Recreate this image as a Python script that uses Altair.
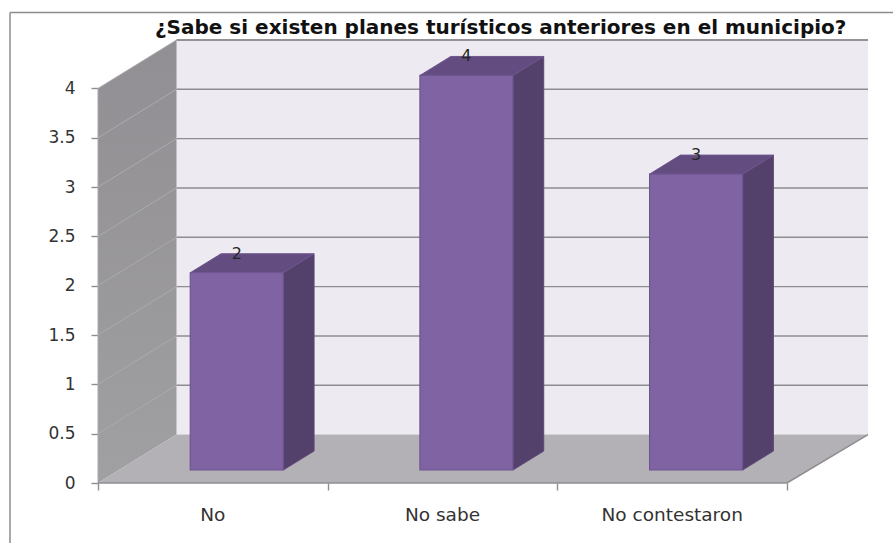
import altair as alt
import pandas as pd

TITLE = "¿Sabe si existen planes turísticos anteriores en el municipio?"
categories = ["No", "No sabe", "No contestaron"]
values = [2, 4, 3]
levels = [0, 0.5, 1, 1.5, 2, 2.5, 3, 3.5, 4]

# Oblique projection: moving back along the depth axis shifts a point in axis units.
X_MAX, Y_MAX = 3.3526, 4.491
DEPTH_X, DEPTH_Y = 0.342, 0.491
BAR_START, BAR_WIDTH = 0.31, 0.405
DEPTH_FRONT, DEPTH_BACK = 0.268, 0.66
TOP_VALUE = 4

x_scale = alt.Scale(domain=[0, X_MAX], nice=False, zero=False)
y_scale = alt.Scale(domain=[0, Y_MAX], nice=False, zero=False)


def X(field="x", **kw):
    return alt.X(f"{field}:Q", scale=x_scale, axis=None, **kw)


def Y(field="y", **kw):
    return alt.Y(f"{field}:Q", scale=y_scale, axis=None, **kw)


# Back wall
wall = alt.Chart(pd.DataFrame({
    "x": [DEPTH_X, X_MAX], "y": [TOP_VALUE + DEPTH_Y] * 2, "y2": [DEPTH_Y] * 2,
})).mark_area(color="#EDEBF1").encode(X(), Y(), y2="y2:Q")

# Left side wall, slightly lighter toward the floor
side_wall = alt.Chart(pd.DataFrame({
    "x": [0, DEPTH_X], "y": [TOP_VALUE, TOP_VALUE + DEPTH_Y], "y2": [0, DEPTH_Y],
})).mark_area(color=alt.Gradient(
    gradient="linear", x1=0, x2=0, y1=0, y2=1,
    stops=[alt.GradientStop(offset=0, color="#918F93"),
           alt.GradientStop(offset=1, color="#A09FA1")],
)).encode(X(), Y(), y2="y2:Q")

# Floor
floor = alt.Chart(pd.DataFrame({
    "y": [0, DEPTH_Y], "x": [0, DEPTH_X], "x2": [3, X_MAX],
})).mark_area(orient="horizontal", color="#B3B1B5").encode(Y(), X(), x2="x2:Q")

# Horizontal gridlines on the back wall, plus the wall's top edge
grid_rows = [{"x": DEPTH_X, "x2": X_MAX, "y": v + DEPTH_Y} for v in levels[1:]]
grid_rows.append({"x": DEPTH_X, "x2": X_MAX, "y": TOP_VALUE + DEPTH_Y})
grid = alt.Chart(pd.DataFrame(grid_rows)).mark_rule(
    color="#8E8D90", strokeWidth=1.4
).encode(X(), x2="x2:Q", y=Y())

# Diagonal gridlines across the side wall
diag_rows = []
for v in levels[1:]:
    diag_rows.append({"level": v, "x": 0, "y": v, "i": 0})
    diag_rows.append({"level": v, "x": DEPTH_X, "y": v + DEPTH_Y, "i": 1})
diagonals = alt.Chart(pd.DataFrame(diag_rows)).mark_line(
    color="#ABAAAC", strokeWidth=1
).encode(X(), Y(), detail="level:Q", order="i:Q")

# Floor outline: the front edge and the right-hand diagonal
floor_edge = alt.Chart(pd.DataFrame({
    "x": [0, 3, X_MAX], "y": [0, 0, DEPTH_Y], "i": [0, 1, 2],
})).mark_line(color="#8E8D90", strokeWidth=1.6).encode(X(), Y(), order="i:Q")

# Left edge of the side wall, stopping at the top tick
left_edge = alt.Chart(pd.DataFrame({"x": [0], "y": [0], "y2": [TOP_VALUE]})).mark_rule(
    color="#A9A8AA", strokeWidth=1
).encode(X(), Y(), y2="y2:Q")

# Bars: one front rectangle, one side parallelogram and one top parallelogram each
front_rows, side_rows, top_rows, label_rows = [], [], [], []
for i, (cat, val) in enumerate(zip(categories, values)):
    left = i + BAR_START + DEPTH_FRONT * DEPTH_X
    right = left + BAR_WIDTH
    base = DEPTH_FRONT * DEPTH_Y
    shift_x = (DEPTH_BACK - DEPTH_FRONT) * DEPTH_X
    shift_y = (DEPTH_BACK - DEPTH_FRONT) * DEPTH_Y
    front_rows.append({"cat": cat, "x": left, "x2": right, "y": val + base, "y2": base})
    side_rows.append({"cat": cat, "x": right, "y": val + base, "y2": base})
    side_rows.append({"cat": cat, "x": right + shift_x, "y": val + base + shift_y, "y2": base + shift_y})
    top_rows.append({"cat": cat, "y": val + base, "x": left, "x2": right})
    top_rows.append({"cat": cat, "y": val + base + shift_y, "x": left + shift_x, "x2": right + shift_x})
    label_rows.append({"x": (left + right) / 2, "y": val + base + shift_y, "label": str(val)})

bar_side = alt.Chart(pd.DataFrame(side_rows)).mark_area(
    color="#54416B", stroke="#5E4878", strokeWidth=1
).encode(X(), Y(), y2="y2:Q", detail="cat:N")

bar_top = alt.Chart(pd.DataFrame(top_rows)).mark_area(
    orient="horizontal", color="#634C7F", stroke="#6E5590", strokeWidth=1
).encode(Y(), X(), x2="x2:Q", detail="cat:N")

bar_front = alt.Chart(pd.DataFrame(front_rows)).mark_rect(
    color="#8063A3", stroke="#6E5590", strokeWidth=1.2
).encode(X(), x2="x2:Q", y=Y(), y2="y2:Q")

value_labels = alt.Chart(pd.DataFrame(label_rows)).mark_text(
    font="DejaVu Sans", fontSize=16, color="#262626", baseline="middle"
).encode(X(), Y(), text="label:N")

# Axes: tick marks and value labels come from the shared scales
y_axis = alt.Chart(pd.DataFrame({"y": levels})).mark_rule(opacity=0).encode(
    y=alt.Y("y:Q", scale=y_scale, title=None, axis=alt.Axis(
        values=levels, grid=False, domain=False,
        tickColor="#8E8D90", tickSize=7, tickWidth=1.4,
        labelFont="DejaVu Sans", labelFontSize=17, labelColor="#333333",
        labelPadding=16, labelExpr="'' + datum.value",
    )),
)
x_axis = alt.Chart(pd.DataFrame({"x": [0, 1, 2, 3]})).mark_rule(opacity=0).encode(
    x=alt.X("x:Q", scale=x_scale, title=None, axis=alt.Axis(
        values=[0, 1, 2, 3], grid=False, domain=False, labels=False,
        tickColor="#8E8D90", tickSize=7, tickWidth=1.4,
    )),
)

category_labels = alt.Chart(pd.DataFrame({
    "x": [i + 0.5 for i in range(len(categories))], "label": categories,
})).mark_text(
    font="DejaVu Sans", fontSize=18.5, color="#333333", baseline="middle"
).encode(X(), y=alt.value(475), text="label:N")

# Chart heading, set just above the back wall
heading = alt.Chart(pd.DataFrame({"label": [TITLE]})).mark_text(
    font="DejaVu Sans", fontSize=20, fontWeight="bold", color="#111111",
    align="left", baseline="alphabetic",
).encode(x=alt.value(57), y=alt.value(-6), text="label:N")

# Outer frame, open at the right and bottom of the page
frame_top = alt.Chart(pd.DataFrame({"k": [0]})).mark_rule(
    color="#8C8C8C", strokeWidth=1.5
).encode(x=alt.value(-88), x2=alt.value(795), y=alt.value(-27.5))
frame_left = alt.Chart(pd.DataFrame({"k": [0]})).mark_rule(
    color="#8C8C8C", strokeWidth=1.5
).encode(x=alt.value(-88), y=alt.value(-27.5), y2=alt.value(503))

chart = alt.layer(
    frame_top, frame_left, wall, side_wall, floor, grid, diagonals, left_edge, floor_edge,
    y_axis, x_axis, bar_side, bar_top, bar_front, value_labels, category_labels, heading,
).resolve_scale(x="shared", y="shared").resolve_axis(x="independent", y="independent").properties(
    width=770,
    height=443,
    padding={"left": 98, "top": 40, "right": 25, "bottom": 60},
    autosize=alt.AutoSizeParams(type="none"),
    background="white",
).configure_view(stroke=None)

chart.save("out.html", embed_options={"renderer": "svg", "actions": False})
